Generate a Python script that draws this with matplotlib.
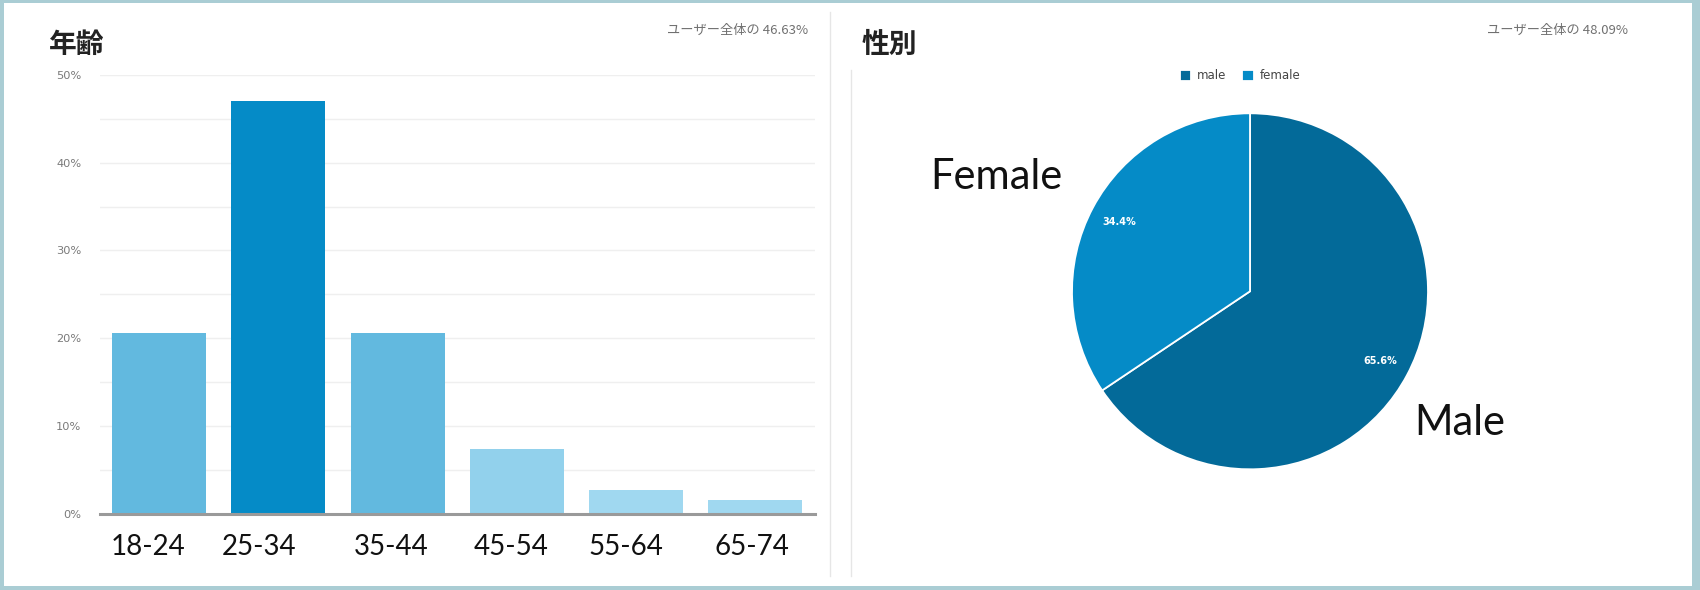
import matplotlib
matplotlib.use("Agg")
import matplotlib.pyplot as plt
from matplotlib.patches import Rectangle
from matplotlib.lines import Line2D
import matplotlib.transforms as mtransforms

# ---- data ----
age_groups = ["18-24", "25-34", "35-44", "45-54", "55-64", "65-74"]
age_share = [20.6, 47.0, 20.6, 7.4, 2.7, 1.5]
age_colors = ["#62b9df", "#058bc7", "#62b9df", "#92d1ec", "#a0d8f0", "#a0d8f0"]
age_label_shift = [-0.09, -0.16, -0.05, -0.05, -0.09, -0.03]
y_ticks = [0, 10, 20, 30, 40, 50]
y_tick_labels = ["0%", "10%", "20%", "30%", "40%", "50%"]

gender_names = ["male", "female"]
gender_share = [65.6, 34.4]
gender_colors = ["#036a99", "#058bc7"]

age_title = "年齢"
gender_title = "性別"
age_note = "ユーザー全体の 46.63%"
gender_note = "ユーザー全体の 48.09%"

W, H = 1700, 590
DPI = 100
CJK = ["Noto Sans CJK JP", "DejaVu Sans"]

fig = plt.figure(figsize=(W / DPI, H / DPI), dpi=DPI)
fig.patch.set_facecolor("#aacdd4")

def px(x, y):
    return x / W, 1 - y / H

# white inner panel (frame)
fig.patches.append(Rectangle((4 / W, 4 / H), (1692 - 4) / W, (587 - 4) / H,
                             transform=fig.transFigure, facecolor="white",
                             edgecolor="none", zorder=-10))

# separators
fig.lines.append(Line2D([830 / W, 830 / W], [1 - 12 / H, 1 - 576 / H],
                        transform=fig.transFigure, color="#e6e6e6", lw=1,
                        zorder=-5))
fig.lines.append(Line2D([851 / W, 851 / W], [1 - 70 / H, 1 - 576 / H],
                        transform=fig.transFigure, color="#e6e6e6", lw=1,
                        zorder=-5))

# ---- bar chart ----
ax_l, ax_r, ax_t, ax_b = 99.5, 815, 75, 513.5
ax = fig.add_axes([ax_l / W, 1 - ax_b / H, (ax_r - ax_l) / W, (ax_b - ax_t) / H])
ax.set_facecolor("none")
xs = list(range(len(age_groups)))
ax.bar(xs, age_share, width=0.787, color=age_colors, zorder=3)
ax.set_xlim(-0.5, len(age_groups) - 0.5)
ax.set_ylim(0, 50)
ax.set_yticks(y_ticks)
ax.set_yticklabels(y_tick_labels)
ax.set_yticks([5, 15, 25, 35, 45], minor=True)
ax.tick_params(axis="y", which="both", length=0, pad=13, labelsize=8.2,
               labelcolor="#7a7a7a")
ax.set_xticks([])
ax.grid(axis="y", which="both", color="#efefef", lw=1, zorder=0)
for s in ["top", "right", "left"]:
    ax.spines[s].set_visible(False)
ax.spines["bottom"].set_color("#9a9a9a")
ax.spines["bottom"].set_linewidth(2.2)
ax.spines["bottom"].set_zorder(4)
trans = mtransforms.blended_transform_factory(ax.transData, ax.transAxes)
for i, lab in enumerate(age_groups):
    ax.text(i + age_label_shift[i], -(546.7 - ax_b) / (ax_b - ax_t), lab,
            transform=trans, ha="center", va="center", fontsize=20,
            family="Lato", color="#111111")

# ---- pie chart ----
cx, cy, r = 1250, 291.3, 178
pax = fig.add_axes([(cx - r) / W, 1 - (cy + r) / H, 2 * r / W, 2 * r / H])
wedges, _, autotexts = pax.pie(
    gender_share, colors=gender_colors, startangle=90, counterclock=False,
    autopct="%.1f%%", pctdistance=0.83, radius=1,
    wedgeprops=dict(edgecolor="white", linewidth=1.3),
    textprops=dict(color="white", fontsize=7, fontweight="bold"))
pax.set_xlim(-1, 1)
pax.set_ylim(-1, 1)
pax.set_aspect("equal")
pax.axis("off")

fig.legend(wedges, gender_names, loc="center",
           bbox_to_anchor=px(1240, 76), ncol=2, frameon=False,
           handlelength=1.0, handleheight=1.0, handletextpad=0.5,
           columnspacing=1.3, prop=dict(size=8.5), labelcolor="#444444")

fig.text(*px(1063, 177), "Female", ha="right", va="center", fontsize=30,
         family="Lato", color="#111111")
fig.text(*px(1414, 423), "Male", ha="left", va="center", fontsize=30,
         family="Lato", color="#111111")

# ---- titles and notes ----
fig.text(*px(49, 45), age_title, ha="left", va="center", fontsize=20,
         family=CJK, fontweight="bold", color="#222222")
fig.text(*px(862, 45), gender_title, ha="left", va="center", fontsize=20,
         family=CJK, fontweight="bold", color="#222222")
fig.text(*px(808, 30), age_note, ha="right", va="center", fontsize=9.5,
         family=CJK, color="#707070")
fig.text(*px(1628, 30), gender_note, ha="right", va="center", fontsize=9.5,
         family=CJK, color="#707070")

fig.savefig("out.png", dpi=DPI, facecolor=fig.get_facecolor())
